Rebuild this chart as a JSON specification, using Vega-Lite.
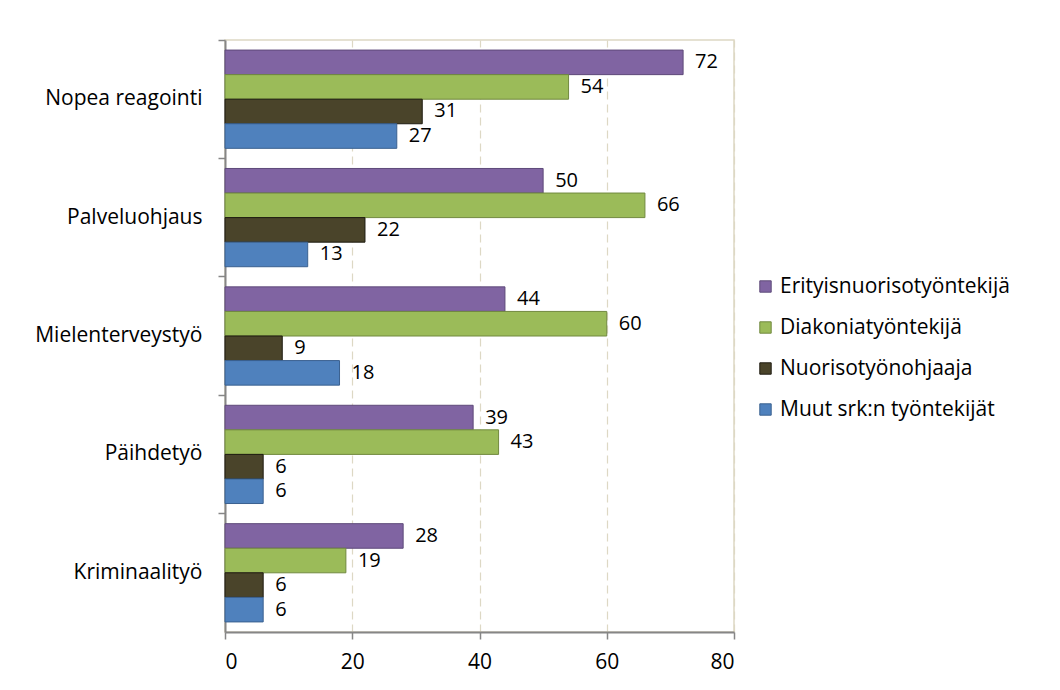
{
  "$schema": "https://vega.github.io/schema/vega-lite/v6.json",
  "autosize": {"type": "none"},
  "width": 509,
  "height": 592,
  "padding": {"left": 225, "top": 40, "right": 326, "bottom": 58},
  "background": "white",
  "config": {
    "font": "Open Sans",
    "view": {"stroke": "#ddd8c4", "strokeWidth": 1.5},
    "axis": {"labelFont": "Open Sans", "labelColor": "#000000"}
  },
  "data": {
    "values": [
      {"cat": "Nopea reagointi", "ci": 1, "series": "Erityisnuorisotyöntekijä", "si": 1, "value": 72},
      {"cat": "Nopea reagointi", "ci": 1, "series": "Diakoniatyöntekijä", "si": 2, "value": 54},
      {"cat": "Nopea reagointi", "ci": 1, "series": "Nuorisotyönohjaaja", "si": 3, "value": 31},
      {"cat": "Nopea reagointi", "ci": 1, "series": "Muut srk:n työntekijät", "si": 4, "value": 27},
      {"cat": "Palveluohjaus", "ci": 2, "series": "Erityisnuorisotyöntekijä", "si": 1, "value": 50},
      {"cat": "Palveluohjaus", "ci": 2, "series": "Diakoniatyöntekijä", "si": 2, "value": 66},
      {"cat": "Palveluohjaus", "ci": 2, "series": "Nuorisotyönohjaaja", "si": 3, "value": 22},
      {"cat": "Palveluohjaus", "ci": 2, "series": "Muut srk:n työntekijät", "si": 4, "value": 13},
      {"cat": "Mielenterveystyö", "ci": 3, "series": "Erityisnuorisotyöntekijä", "si": 1, "value": 44},
      {"cat": "Mielenterveystyö", "ci": 3, "series": "Diakoniatyöntekijä", "si": 2, "value": 60},
      {"cat": "Mielenterveystyö", "ci": 3, "series": "Nuorisotyönohjaaja", "si": 3, "value": 9},
      {"cat": "Mielenterveystyö", "ci": 3, "series": "Muut srk:n työntekijät", "si": 4, "value": 18},
      {"cat": "Päihdetyö", "ci": 4, "series": "Erityisnuorisotyöntekijä", "si": 1, "value": 39},
      {"cat": "Päihdetyö", "ci": 4, "series": "Diakoniatyöntekijä", "si": 2, "value": 43},
      {"cat": "Päihdetyö", "ci": 4, "series": "Nuorisotyönohjaaja", "si": 3, "value": 6},
      {"cat": "Päihdetyö", "ci": 4, "series": "Muut srk:n työntekijät", "si": 4, "value": 6},
      {"cat": "Kriminaalityö", "ci": 5, "series": "Erityisnuorisotyöntekijä", "si": 1, "value": 28},
      {"cat": "Kriminaalityö", "ci": 5, "series": "Diakoniatyöntekijä", "si": 2, "value": 19},
      {"cat": "Kriminaalityö", "ci": 5, "series": "Nuorisotyönohjaaja", "si": 3, "value": 6},
      {"cat": "Kriminaalityö", "ci": 5, "series": "Muut srk:n työntekijät", "si": 4, "value": 6}
    ]
  },
  "encoding": {
    "y": {
      "field": "cat",
      "type": "nominal",
      "sort": {"field": "ci"},
      "scale": {"paddingInner": 0, "paddingOuter": 0},
      "axis": {
        "title": null,
        "bandPosition": 0,
        "labelFontSize": 21,
        "labelPadding": 16,
        "tickSize": 7,
        "tickColor": "#868686",
        "tickWidth": 1.5,
        "domainColor": "#868686",
        "domainWidth": 2,
        "grid": false
      }
    },
    "yOffset": {
      "field": "series",
      "type": "nominal",
      "sort": {"field": "si"},
      "scale": {"paddingInner": 0, "paddingOuter": 0.41}
    },
    "x": {
      "field": "value",
      "type": "quantitative",
      "scale": {"domain": [0, 80], "nice": false},
      "axis": {
        "title": null,
        "values": [0, 20, 40, 60, 80],
        "labelFontSize": 21,
        "labelPadding": 12,
        "tickSize": 7,
        "tickColor": "#868686",
        "tickWidth": 1.5,
        "domainColor": "#868686",
        "domainWidth": 2,
        "grid": true,
        "gridColor": "#ddd8c4",
        "gridDash": [8, 5],
        "gridWidth": 1.2
      }
    }
  },
  "layer": [
    {
      "mark": {"type": "bar", "strokeWidth": 1},
      "encoding": {
        "color": {
          "field": "series",
          "type": "nominal",
          "sort": {"field": "si"},
          "title": null,
          "scale": {
            "domain": ["Erityisnuorisotyöntekijä", "Diakoniatyöntekijä", "Nuorisotyönohjaaja", "Muut srk:n työntekijät"],
            "range": ["#8064A2", "#9BBB59", "#4A442A", "#4F81BD"]
          },
          "legend": {
            "orient": "none",
            "legendX": 530,
            "legendY": 236,
            "symbolType": "square",
            "symbolSize": 130,
            "symbolStrokeWidth": 1,
            "labelFontSize": 21,
            "labelFont": "Open Sans",
            "labelColor": "#000000",
            "labelOffset": 4,
            "rowPadding": 19,
            "labelLimit": 400
          }
        },
        "stroke": {
          "field": "series",
          "type": "nominal",
          "sort": {"field": "si"},
          "title": null,
          "scale": {
            "domain": ["Erityisnuorisotyöntekijä", "Diakoniatyöntekijä", "Nuorisotyönohjaaja", "Muut srk:n työntekijät"],
            "range": ["#5E4A7A", "#71893F", "#1E1B10", "#3A6190"]
          }
        }
      }
    },
    {
      "mark": {"type": "text", "align": "left", "baseline": "middle", "dx": 12, "fontSize": 20, "font": "Open Sans", "color": "#000000"},
      "encoding": {
        "text": {"field": "value", "type": "quantitative"}
      }
    }
  ]
}
